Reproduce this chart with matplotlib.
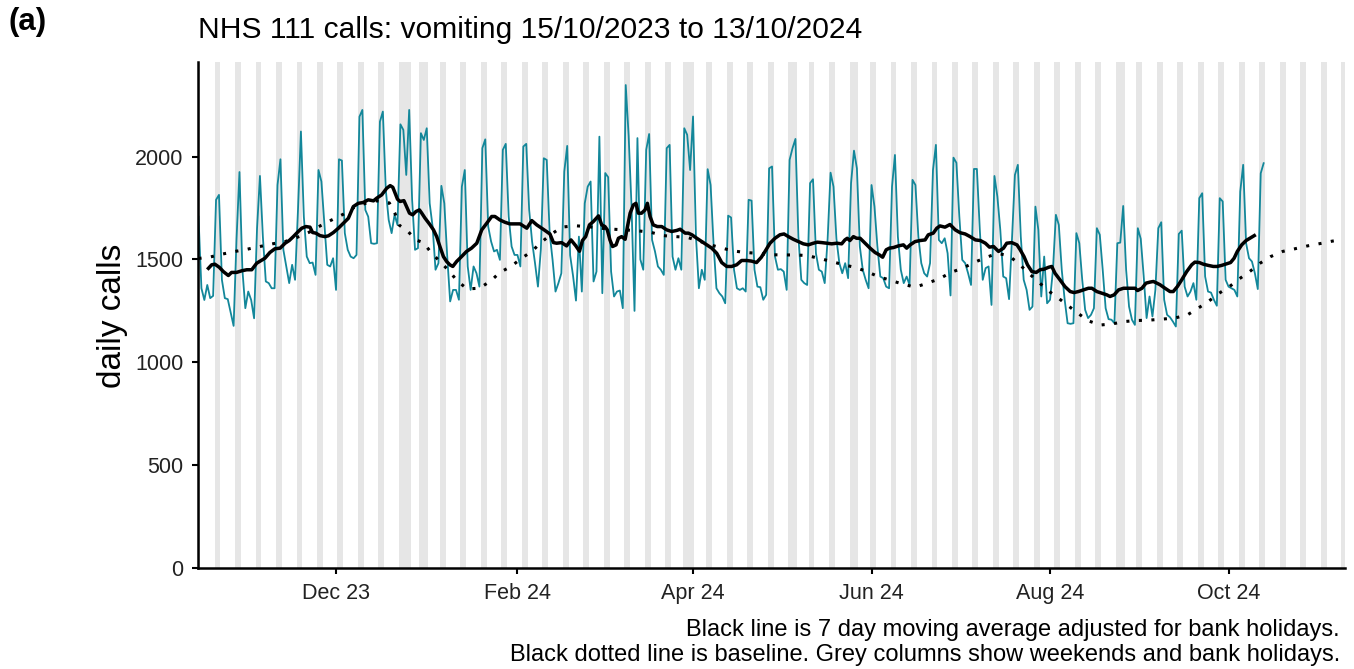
import matplotlib
matplotlib.use("Agg")
import matplotlib.pyplot as plt
import matplotlib.dates as mdates
import numpy as np
import pandas as pd

# daily NHS 111 vomiting calls from 15/10/2023 (a Sunday), one row per week Sun..Sat
calls = [
    1708, 1360, 1303, 1376, 1312, 1323, 1790,
    1814, 1401, 1312, 1307, 1242, 1177, 1600,
    1925, 1450, 1263, 1344, 1303, 1214, 1650,
    1906, 1610, 1393, 1385, 1360, 1360, 1862,
    1987, 1547, 1466, 1385, 1474, 1401, 1741,
    2122, 1708, 1514, 1482, 1485, 1425, 1935,
    1879, 1676, 1474, 1466, 1506, 1352, 1987,
    1981, 1628, 1547, 1514, 1506, 1522, 2194,
    2227, 1741, 1708, 1579, 1576, 1579, 2170,
    2219, 1838, 1692, 1628, 1717, 1668, 2157,
    2130, 1911, 2227, 1790, 1547, 1555, 2114,
    2081, 2138, 1773, 1660, 1450, 1482, 1858,
    1773, 1514, 1296, 1352, 1352, 1304, 1854,
    1935, 1466, 1352, 1466, 1433, 1368, 2041,
    2084, 1660, 1587, 1539, 1547, 1498, 2033,
    2062, 1709, 1563, 1522, 1522, 1466, 2049,
    2062, 1741, 1587, 1482, 1368, 1550, 1992,
    1984, 1628, 1498, 1344, 1385, 1433, 1927,
    2052, 1520, 1420, 1300, 1611, 1344, 1773,
    1854, 1879, 1393, 1441, 2097, 1336, 1920,
    1900, 1441, 1320, 1344, 1349, 1263, 2348,
    2100, 1750, 1250, 2090, 1500, 1450, 2033,
    2110, 1595, 1539, 1466, 1450, 1425, 2041,
    2057, 1514, 1450, 1506, 1450, 2138, 2106,
    1935, 2195, 1611, 1360, 1450, 1401, 1939,
    1862, 1579, 1360, 1336, 1320, 1287, 1713,
    1704, 1450, 1360, 1352, 1360, 1344, 1790,
    1786, 1450, 1368, 1365, 1304, 1328, 1943,
    1952, 1514, 1450, 1453, 1441, 1352, 1984,
    2041, 2086, 1611, 1401, 1385, 1376, 1871,
    1890, 1530, 1450, 1441, 1385, 1600, 1922,
    1854, 1600, 1482, 1433, 1482, 1409, 1871,
    2029, 1943, 1563, 1450, 1401, 1360, 1862,
    1757, 1563, 1417, 1409, 1368, 1360, 1854,
    2008, 1611, 1450, 1385, 1417, 1376, 1887,
    1862, 1611, 1482, 1433, 1417, 1482, 1935,
    2057, 1595, 1579, 1603, 1530, 1325, 1995,
    1970, 1709, 1498, 1482, 1433, 1376, 1940,
    1940, 1644, 1401, 1458, 1466, 1279, 1906,
    1806, 1644, 1417, 1409, 1307, 1600, 1911,
    1960, 1611, 1401, 1352, 1255, 1271, 1757,
    1644, 1320, 1514, 1287, 1304, 1450, 1717,
    1668, 1450, 1304, 1190, 1187, 1190, 1628,
    1579, 1401, 1255, 1215, 1231, 1263, 1652,
    1620, 1450, 1263, 1210, 1207, 1190, 1579,
    1582, 1760, 1450, 1271, 1207, 1182, 1652,
    1600, 1420, 1215, 1320, 1223, 1352, 1652,
    1681, 1304, 1231, 1219, 1198, 1174, 1624,
    1640, 1368, 1320, 1344, 1385, 1304, 1798,
    1822, 1417, 1344, 1339, 1304, 1275, 1798,
    1782, 1401, 1368, 1360, 1352, 1320, 1830,
    1960, 1579, 1506, 1490, 1433, 1356, 1919,
    1968,
]

# 7 day moving average (bank holiday adjusted): day offset, value
ma_days = [3.4, 4.5, 5.6, 7.1, 8.5, 10.2, 11.3, 13, 14.8, 16.5, 18.2, 19.9, 21.2, 22.7,
           24.4, 26.1, 27.9, 29.6, 31, 32.4, 34.1, 35.3, 36.7, 38.1, 39, 40.1, 41.5,
           43.2, 44.4, 46.1, 47.8, 49.5, 51.2, 52.9, 54.6, 56.3, 58, 59.8, 60.9, 62.6,
           64.3, 65.5, 66.4, 67.2, 68, 68.9, 70.2, 71.1, 72.1, 73.2, 74.3, 75.5, 76.3,
           77.4, 78.9, 80.3, 81.4, 82.5, 83.7, 84.8, 85.9, 86.9, 88.2, 89.9, 91.6, 93.3,
           95.1, 96.8, 98.5, 100.2, 101.3, 103, 104.7, 106.4, 108.2, 109.9, 112.2, 113.9,
           115.6, 117.8, 120.1, 121.3, 122.4, 124.1, 125.8, 127.3, 128.9, 130.2, 131.2,
           132.3, 133.6, 134.9, 136.7, 137.8, 138.9, 139.7, 140.6, 141.5, 142.7, 143.5,
           144.6, 145.8, 146.6, 147.5, 148.6, 149.5, 150.3, 151.4, 152.6, 153.4, 154.3,
           155.4, 156.8, 158.3, 160, 161.7, 163.4, 164.6, 166.3, 167.4, 168.6, 170.3, 172,
           173.7, 175.4, 177.1, 178.8, 180.5, 182.2, 183.9, 185.6, 187.3, 189, 190.7,
           192.3, 193.6, 195.3, 197, 198.7, 200.1, 201.6, 203.3, 205, 206.7, 208.4, 210.1,
           211.5, 213, 214.7, 216.4, 218.1, 219.8, 220.9, 221.7, 222.6, 223.8, 224.9,
           226.1, 227.8, 229.5, 231.2, 232.7, 233.8, 235, 236.1, 237.5, 239.2, 240.9, 242,
           243.2, 244.9, 246.6, 248.3, 249.4, 251.1, 252.3, 253.4, 255.1, 256.8, 258.6,
           260.3, 262, 263.7, 265.5, 267.2, 268.9, 270.3, 271.7, 273.4, 275.1, 276.2,
           277.9, 279.7, 280.8, 282.1, 283.3, 284.8, 286.3, 287.6, 289, 290.5, 291.6,
           292.7, 294.4, 296.1, 297.9, 299.2, 300.7, 302.4, 304.1, 305.3, 307, 308.7,
           310.4, 311.5, 312.9, 314.4, 316.1, 318.4, 320.1, 320.9, 322.4, 323.8, 325.2,
           326.3, 327.5, 328.6, 330.3, 332, 333.1, 334.5, 336, 337.7, 339.4, 340.5, 342,
           343.4, 345.1, 346.8, 348.1, 349.6, 351.4, 352.7, 353.9, 355, 356.5, 358, 359.3,
           360.8]
ma_vals = [1457, 1474, 1477, 1462, 1441, 1422, 1437, 1437, 1445, 1450, 1450, 1482, 1493, 1506,
           1534, 1552, 1555, 1579, 1592, 1611, 1636, 1652, 1660, 1657, 1631, 1628, 1616,
           1611, 1615, 1631, 1652, 1676, 1700, 1757, 1773, 1777, 1790, 1785, 1798, 1814,
           1846, 1859, 1851, 1822, 1793, 1782, 1786, 1757, 1725, 1717, 1733, 1741, 1725,
           1701, 1673, 1644, 1611, 1563, 1514, 1490, 1474, 1466, 1490, 1514, 1539, 1555,
           1579, 1644, 1676, 1709, 1709, 1692, 1681, 1673, 1673, 1673, 1652, 1689,
           1668, 1647, 1624, 1582, 1579, 1582, 1566, 1595, 1567, 1540, 1592,
           1611, 1668, 1684, 1712, 1668, 1660, 1644, 1595, 1563, 1571, 1603,
           1611, 1598, 1660, 1725, 1765, 1773, 1725, 1725, 1741, 1773, 1709,
           1668, 1660, 1660, 1644, 1636, 1641, 1647, 1628, 1628, 1620, 1603, 1587,
           1571, 1555, 1530, 1485, 1466, 1466, 1474, 1495, 1495, 1492, 1485,
           1510, 1539, 1579, 1603, 1620, 1624, 1611, 1598, 1587, 1576, 1571, 1579,
           1584, 1582, 1579, 1576, 1579, 1576, 1595, 1603, 1592, 1611, 1603,
           1603, 1579, 1555, 1534, 1522, 1511, 1547, 1555, 1558, 1566, 1571, 1555,
           1571, 1587, 1592, 1595, 1620, 1628, 1652, 1663, 1657, 1670, 1644,
           1630, 1624, 1611, 1595, 1592, 1579, 1560, 1563, 1539, 1555, 1579,
           1582, 1571, 1547, 1514, 1474, 1441, 1437, 1450, 1453, 1462, 1466,
           1433, 1401, 1368, 1344, 1339, 1344, 1352, 1360, 1360, 1344, 1336,
           1328, 1320, 1328, 1352, 1360, 1360, 1360, 1349, 1360, 1385, 1390,
           1393, 1385, 1377, 1360, 1344, 1344, 1368, 1401, 1441, 1474, 1487, 1485,
           1477, 1471, 1466, 1466, 1471, 1479, 1485, 1506, 1539, 1571, 1592, 1603,
           1616]

# baseline (dotted): day offset, value
base_days = [0, 3.7, 8.1, 12.5, 16.7, 21, 25.3, 29.6, 33.8, 37.9, 41.8, 45.5, 49.5, 53.1,
             57.1, 60.9, 65.2, 67.2, 68.5, 71.6, 74.3, 76.8, 79.5, 82.5, 85.6, 88.4, 91.8,
             96, 99.9, 103, 106.8, 110.3, 113.9, 117, 120.5, 124.1, 128.5, 132.9, 137.2,
             141.6, 145.8, 150.3, 154.6, 158.8, 163.2, 166.9, 169.9, 174.9, 179, 182.5,
             186.8, 191, 195.4, 199.9, 203.9, 208, 212.2, 216.4, 220.4, 224.6, 228.4, 232.3,
             236.6, 240.7, 244.9, 249.1, 253.2, 257.1, 261.2, 265, 269, 273, 277.1, 280.5,
             283.7, 286.9, 290, 293.6, 297.1, 300.5, 303.9, 308, 312.4, 316.3, 320.3, 324.9,
             329.3, 333.6, 338, 341.6, 345.4, 348.8, 352.3, 355.8, 359.4, 362.8, 366.4,
             370.5, 374.7, 379, 383.2, 387.4, 391]
base_vals = [1505, 1511, 1526, 1539, 1550, 1563, 1576, 1587, 1608, 1633, 1665, 1692, 1720, 1752,
             1773, 1785, 1775, 1722, 1668, 1636, 1595, 1582, 1534, 1490, 1445, 1396, 1357,
             1360, 1396, 1437, 1466, 1505, 1539, 1582, 1622, 1657, 1664, 1660, 1652,
             1647, 1644, 1639, 1632, 1616, 1611, 1608, 1595, 1571, 1555, 1542,
             1534, 1530, 1523, 1522, 1522, 1519, 1505, 1490, 1474, 1461, 1441, 1417,
             1398, 1380, 1365, 1385, 1406, 1437, 1458, 1485, 1509, 1530, 1517, 1477,
             1433, 1393, 1352, 1315, 1276, 1239, 1203, 1181, 1187, 1198, 1203, 1205,
             1210, 1215, 1231, 1263, 1299, 1336, 1368, 1407, 1443, 1482, 1514,
             1539, 1552, 1566, 1577, 1589, 1597]

bank_holidays = ["2023-12-25", "2023-12-26", "2024-01-01", "2024-03-29",
                 "2024-04-01", "2024-05-06", "2024-05-27", "2024-08-26"]
tick_dates = ["2023-12-01", "2024-02-01", "2024-04-01", "2024-06-01", "2024-08-01", "2024-10-01"]
tick_labels = ["Dec 23", "Feb 24", "Apr 24", "Jun 24", "Aug 24", "Oct 24"]

start = pd.Timestamp("2023-10-15")
x0 = mdates.date2num(start)
days = np.arange(len(calls))

plt.rcParams["font.family"] = ["Liberation Sans", "DejaVu Sans"]
fig = plt.figure(figsize=(13.54, 6.69), dpi=100)
ax = fig.add_axes([198 / 1354, 1 - 568 / 669, (1345 - 198) / 1354, (568 - 62) / 669])

# grey columns for weekends and bank holidays
cal = pd.date_range(start - pd.Timedelta(days=1), "2024-11-10")
grey = [d for d in cal if d.dayofweek >= 5] + [pd.Timestamp(b) for b in bank_holidays]
for d in grey:
    c = mdates.date2num(d)
    ax.axvspan(c - 0.5, c + 0.5, color="#e6e6e6", lw=0, zorder=0)

ax.plot(x0 + days, calls, color="#13879a", lw=1.3, zorder=2)
ax.plot(x0 + np.array(base_days), base_vals, color="black", lw=2.2,
        linestyle=(0, (1, 3.1)), zorder=3)
ax.plot(x0 + np.array(ma_days), ma_vals, color="black", lw=2.5, zorder=4)

ax.set_xlim(x0 - 0.17, x0 + 391.8)
ax.set_ylim(0, 2460)
ax.set_yticks([0, 500, 1000, 1500, 2000])
ax.set_xticks([mdates.date2num(pd.Timestamp(t)) for t in tick_dates])
ax.set_xticklabels(tick_labels)

for s in ["top", "right"]:
    ax.spines[s].set_visible(False)
for s in ["left", "bottom"]:
    ax.spines[s].set_linewidth(1.8)
ax.tick_params(axis="both", length=4.5, width=1.5, labelsize=15.5, labelcolor="#222222", pad=6)

fig.text(112 / 1354, 1 - 316 / 669, "daily calls", rotation=90, fontsize=24,
         ha="center", va="center")
fig.text(198 / 1354, 1 - 30 / 669, "NHS 111 calls: vomiting 15/10/2023 to 13/10/2024",
         fontsize=21.6, ha="left", va="center")
fig.text(8 / 1354, 1 - 22 / 669, "(a)", fontsize=22.5, fontweight="bold", ha="left", va="center")
fig.text(1340 / 1354, 1 - 630 / 669, "Black line is 7 day moving average adjusted for bank holidays.",
         fontsize=17, ha="right", va="center")
fig.text(1340 / 1354, 1 - 655 / 669,
         "Black dotted line is baseline. Grey columns show weekends and bank holidays.",
         fontsize=17, ha="right", va="center")

fig.savefig("out.png", dpi=100)
